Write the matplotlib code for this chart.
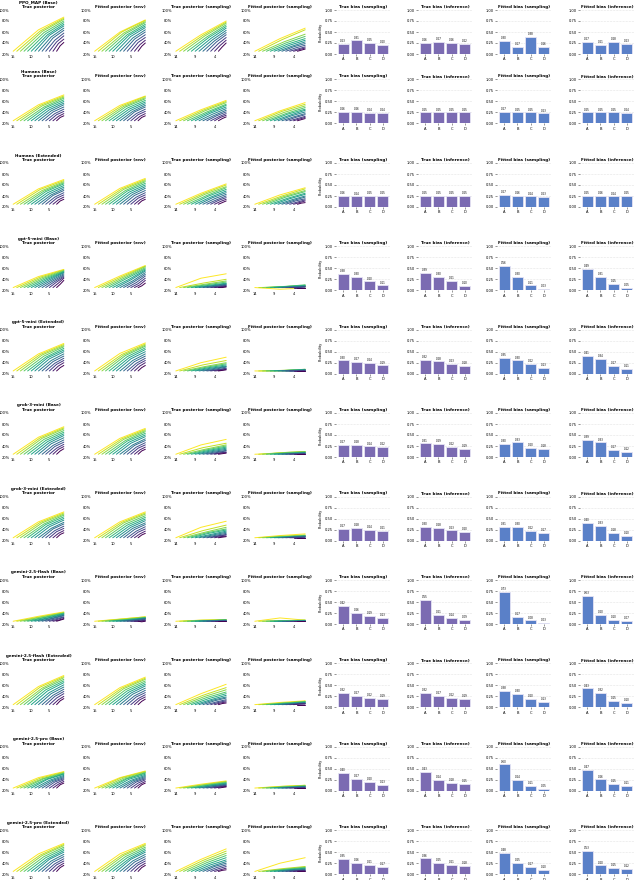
import numpy as np
import matplotlib
matplotlib.use("Agg")
import matplotlib.pyplot as plt

# --- data -------------------------------------------------------------------
MODELS = ["PPO_MAP (Base)", "Humans (Base)", "Humans (Extended)",
          "gpt-5-mini (Base)", "gpt-5-mini (Extended)",
          "grok-3-mini (Base)", "grok-3-mini (Extended)",
          "gemini-2.5-flash (Base)", "gemini-2.5-flash (Extended)",
          "gemini-2.5-pro (Base)", "gemini-2.5-pro (Extended)"]

OPTIONS = ["A", "B", "C", "D"]

# start step of every trajectory (yellow = longest, purple = shortest)
STARTS_ENV = [15, 14, 13, 12, 11, 10, 9, 8, 7, 6, 5, 4, 3]
STARTS_SAMP = [14, 13, 12, 11, 10, 9, 8, 7, 6, 5, 4, 3]
END_STEP = 1
START_PROB = 0.25

# posterior of the true option at the last step / half way, one list per model
TRUE_POST_END = [
    [.87, .85, .83, .80, .77, .74, .71, .67, .63, .58, .53, .47, .41],
    [.72, .70, .68, .66, .63, .60, .57, .54, .50, .46, .42, .38, .34],
    [.70, .68, .66, .64, .62, .59, .56, .53, .50, .46, .42, .38, .34],
    [.58, .57, .56, .55, .54, .53, .52, .50, .48, .46, .44, .42, .38],
    [.75, .73, .71, .69, .66, .63, .60, .56, .52, .48, .44, .40, .35],
    [.75, .73, .71, .68, .65, .62, .59, .55, .51, .47, .43, .39, .35],
    [.72, .70, .68, .66, .63, .60, .57, .53, .50, .46, .42, .38, .34],
    [.42, .41, .40, .40, .39, .38, .37, .36, .35, .33, .32, .30, .29],
    [.78, .76, .74, .71, .68, .65, .61, .57, .53, .49, .45, .40, .36],
    [.55, .54, .53, .52, .51, .50, .48, .46, .44, .42, .40, .37, .34],
    [.76, .74, .72, .69, .66, .63, .60, .56, .52, .48, .44, .40, .36],
]
TRUE_POST_MID = [
    [.64, .62, .61, .59, .57, .55, .54, .51, .49, .45, .42, .39, .35],
    [.54, .53, .52, .50, .49, .47, .45, .43, .41, .38, .36, .33, .31],
    [.53, .52, .50, .49, .48, .46, .44, .42, .41, .38, .36, .33, .31],
    [.45, .44, .43, .42, .41, .40, .39, .38, .37, .36, .35, .33, .31],
    [.56, .55, .54, .52, .50, .49, .47, .44, .42, .39, .37, .34, .31],
    [.56, .55, .54, .52, .50, .48, .46, .44, .41, .39, .36, .34, .31],
    [.54, .53, .52, .50, .49, .47, .45, .42, .41, .38, .36, .33, .31],
    [.34, .33, .33, .32, .32, .31, .31, .30, .30, .29, .28, .27, .27],
    [.58, .57, .55, .54, .52, .50, .47, .45, .42, .40, .37, .34, .32],
    [.44, .43, .42, .42, .41, .41, .39, .38, .37, .36, .34, .32, .31],
    [.57, .55, .54, .52, .50, .48, .47, .44, .42, .39, .37, .34, .32],
]
ENV_POST_END = [
    [.82, .81, .79, .77, .74, .71, .68, .64, .60, .55, .50, .45, .40],
    [.70, .69, .67, .65, .62, .59, .56, .53, .50, .46, .42, .38, .34],
    [.72, .70, .68, .66, .63, .60, .57, .54, .50, .46, .42, .38, .34],
    [.65, .64, .63, .61, .59, .57, .55, .52, .49, .46, .42, .38, .33],
    [.76, .74, .72, .70, .67, .64, .60, .56, .52, .48, .44, .40, .35],
    [.72, .70, .68, .66, .63, .60, .57, .53, .50, .46, .42, .38, .34],
    [.72, .70, .68, .65, .62, .59, .56, .52, .49, .45, .41, .37, .33],
    [.33, .33, .32, .32, .31, .31, .30, .30, .29, .28, .27, .26, .25],
    [.75, .73, .71, .68, .65, .62, .59, .55, .51, .47, .43, .39, .35],
    [.56, .55, .54, .53, .52, .50, .48, .46, .44, .42, .40, .37, .34],
    [.76, .74, .72, .69, .66, .63, .60, .56, .52, .48, .44, .40, .36],
]
ENV_POST_MID = [
    [.60, .60, .58, .57, .55, .54, .52, .49, .47, .44, .41, .37, .34],
    [.53, .52, .51, .50, .48, .46, .44, .42, .41, .38, .36, .33, .31],
    [.54, .53, .52, .50, .49, .47, .45, .43, .41, .38, .36, .33, .31],
    [.46, .45, .44, .43, .42, .40, .39, .37, .36, .34, .32, .30, .28],
    [.57, .55, .54, .53, .51, .49, .47, .44, .42, .39, .37, .34, .31],
    [.54, .53, .52, .50, .49, .47, .45, .42, .41, .38, .36, .33, .31],
    [.54, .53, .52, .50, .48, .46, .44, .42, .40, .37, .35, .32, .30],
    [.29, .29, .28, .28, .28, .27, .27, .27, .26, .26, .25, .25, .24],
    [.56, .55, .54, .52, .50, .48, .46, .44, .41, .39, .36, .34, .31],
    [.44, .44, .43, .42, .42, .41, .39, .38, .37, .36, .34, .32, .31],
    [.57, .55, .54, .52, .50, .48, .47, .44, .42, .39, .37, .34, .32],
]
TRUE_SAMP_END = [
    [.80, .78, .76, .73, .70, .67, .63, .59, .55, .50, .45, .40],
    [.62, .60, .58, .55, .53, .50, .47, .44, .41, .38, .35, .32],
    [.62, .60, .57, .55, .52, .49, .46, .43, .40, .37, .34, .31],
    [.50, .40, .37, .35, .33, .32, .31, .30, .29, .28, .27, .26],
    [.50, .44, .40, .38, .36, .34, .33, .32, .30, .29, .28, .27],
    [.52, .45, .42, .40, .38, .36, .34, .32, .31, .29, .28, .27],
    [.55, .48, .44, .41, .39, .37, .35, .33, .31, .30, .28, .27],
    [.28, .28, .28, .27, .27, .27, .26, .26, .26, .25, .25, .25],
    [.62, .56, .52, .48, .45, .42, .39, .37, .34, .32, .30, .28],
    [.38, .37, .36, .35, .34, .33, .32, .31, .30, .29, .28, .27],
    [.66, .62, .58, .54, .50, .46, .43, .40, .37, .34, .31, .28],
]
TRUE_SAMP_MID = [
    [.55, .54, .53, .51, .50, .48, .46, .44, .42, .39, .36, .33],
    [.45, .44, .43, .41, .40, .39, .37, .35, .34, .32, .31, .29],
    [.45, .44, .43, .41, .40, .38, .37, .35, .33, .32, .30, .28],
    [.42, .33, .31, .30, .29, .28, .28, .27, .27, .26, .26, .25],
    [.40, .36, .33, .32, .31, .30, .29, .28, .27, .27, .26, .26],
    [.42, .37, .34, .33, .32, .31, .30, .29, .28, .27, .27, .26],
    [.44, .38, .35, .34, .33, .31, .30, .29, .28, .28, .27, .26],
    [.27, .27, .26, .26, .26, .26, .26, .25, .25, .25, .25, .25],
    [.45, .42, .40, .38, .36, .34, .33, .32, .30, .29, .28, .27],
    [.32, .31, .31, .30, .30, .29, .29, .28, .28, .27, .27, .26],
    [.47, .45, .43, .41, .39, .37, .35, .34, .32, .30, .28, .27],
]
FIT_SAMP_END = [
    [.67, .64, .56, .52, .48, .45, .42, .39, .36, .33, .31, .29],
    [.58, .55, .52, .49, .46, .44, .41, .38, .36, .33, .31, .29],
    [.55, .53, .50, .48, .45, .43, .40, .38, .35, .33, .31, .28],
    [.24, .28, .29, .30, .29, .28, .27, .27, .26, .26, .25, .25],
    [.26, .27, .28, .28, .27, .27, .27, .26, .26, .26, .25, .25],
    [.29, .30, .30, .29, .28, .28, .27, .27, .26, .26, .25, .25],
    [.32, .30, .29, .29, .28, .28, .27, .27, .26, .26, .25, .25],
    [.27, .27, .27, .26, .26, .26, .26, .25, .25, .25, .25, .25],
    [.32, .31, .31, .30, .30, .29, .28, .28, .27, .27, .26, .25],
    [.30, .30, .29, .29, .28, .28, .27, .27, .26, .26, .25, .25],
    [.50, .34, .33, .32, .31, .30, .29, .28, .27, .27, .26, .25],
]
FIT_SAMP_MID = [
    [.48, .46, .42, .40, .38, .36, .34, .33, .31, .29, .28, .27],
    [.43, .42, .40, .38, .37, .35, .34, .32, .31, .29, .28, .27],
    [.42, .40, .39, .38, .36, .35, .33, .32, .31, .29, .28, .27],
    [.22, .26, .27, .27, .27, .26, .26, .26, .25, .25, .25, .25],
    [.25, .26, .26, .26, .26, .26, .25, .25, .25, .25, .25, .25],
    [.27, .28, .28, .27, .27, .26, .26, .26, .26, .25, .25, .25],
    [.29, .28, .27, .27, .27, .26, .26, .26, .26, .25, .25, .25],
    [.31, .26, .26, .26, .25, .25, .25, .25, .25, .25, .25, .25],
    [.29, .28, .28, .28, .27, .27, .27, .26, .26, .26, .26, .25],
    [.28, .28, .27, .27, .27, .26, .26, .26, .26, .25, .25, .25],
    [.40, .30, .29, .29, .28, .28, .27, .27, .26, .26, .26, .25],
]

# answer-position bias, A..D
TRUE_BIAS_SAMP = [
    [.23, .31, .25, .20], [.26, .26, .24, .24], [.26, .24, .25, .25],
    [.38, .30, .20, .11], [.30, .27, .24, .19], [.27, .28, .24, .22],
    [.27, .28, .24, .21], [.42, .26, .19, .13], [.32, .27, .22, .19],
    [.40, .27, .20, .13], [.35, .26, .21, .17],
]
TRUE_BIAS_INF = [
    [.26, .27, .26, .22], [.25, .25, .25, .25], [.25, .25, .25, .25],
    [.39, .30, .21, .10], [.32, .28, .23, .18], [.31, .29, .22, .19],
    [.30, .28, .23, .20], [.55, .21, .14, .09], [.32, .27, .22, .19],
    [.43, .24, .18, .15], [.36, .25, .21, .18],
]
FIT_BIAS_SAMP = [
    [.30, .17, .38, .16], [.27, .25, .25, .23], [.27, .26, .24, .23],
    [.56, .30, .11, .03], [.35, .30, .22, .13], [.30, .33, .20, .18],
    [.31, .30, .22, .17], [.73, .17, .08, .03], [.38, .30, .20, .13],
    [.60, .24, .11, .05], [.48, .25, .17, .10],
]
FIT_BIAS_INF = [
    [.27, .21, .28, .23], [.25, .25, .25, .24], [.25, .26, .24, .25],
    [.49, .31, .15, .05], [.41, .34, .17, .11], [.39, .33, .17, .12],
    [.40, .33, .18, .10], [.63, .20, .10, .07], [.43, .32, .15, .10],
    [.47, .26, .15, .11], [.53, .20, .15, .12],
]

PURPLE = "#7b6bb2"
BLUE = "#5a80c8"

# --- layout (pixels of the 634x880 image) ----------------------------------
W, H = 634, 880
row_tops = [10, 79.5, 163, 246.3, 329.7, 413, 496.5, 580, 663.4, 746.8, 830.2]
ax_h = 44
line_lefts = [11, 92.5, 173.5, 252.5]
line_w = 55
bar_lefts = [336, 418, 497, 580]
bar_w = 54

TITLE_FS = 3.0
TICK_FS = 2.6

fig = plt.figure(figsize=(W / 100, H / 100), dpi=100)
cmap = plt.get_cmap("viridis")


def px_axes(left, top, width, height):
    return fig.add_axes([left / W, 1 - (top + height) / H, width / W, height / H])


def line_panel(ax, starts, ends, mids, ticks, title):
    n = len(starts)
    for k, (s, e, m) in enumerate(zip(starts, ends, mids)):
        col = cmap(1 - k / (n - 1))
        xs = [s, (s + END_STEP) / 2, END_STEP]
        ys = [START_PROB, m, e]
        ax.plot(xs, ys, color=col, lw=0.7, solid_capstyle="round")
    ax.set_xlim(starts[0] + 0.6, END_STEP - 0.6)
    ax.set_ylim(0.2, 1.0)
    ax.set_xticks(ticks)
    ax.set_yticks([0.2, 0.4, 0.6, 0.8, 1.0])
    ax.set_yticklabels(["20%", "40%", "60%", "80%", "100%"])
    ax.tick_params(labelsize=TICK_FS, length=0, pad=1)
    for sp in ax.spines.values():
        sp.set_visible(False)
    ax.set_title(title, fontsize=TITLE_FS, fontweight="bold", pad=1.5)


def bar_panel(ax, vals, color, title, ylabel=False):
    x = np.arange(len(OPTIONS))
    bars = ax.bar(x, vals, width=0.8, color=color, edgecolor="#e6e4f4",
                  linewidth=0.6, zorder=2)
    ax.bar_label(bars, labels=[f"{v:.2f}" for v in vals], fontsize=1.9,
                 padding=0.6)
    ax.set_ylim(0, 1.0)
    ax.set_xlim(-0.55, 3.55)
    ax.set_xticks(x)
    ax.set_xticklabels(OPTIONS)
    ax.set_yticks([0, 0.25, 0.5, 0.75, 1.0])
    ax.set_yticklabels(["0.00", "0.25", "0.50", "0.75", "1.00"])
    ax.yaxis.grid(True, linestyle=":", linewidth=0.4, color="#cccccc", zorder=0)
    ax.set_axisbelow(True)
    ax.tick_params(labelsize=TICK_FS, length=1.5, width=0.4, pad=1,
                   color="#444444")
    for sp in ax.spines.values():
        sp.set_visible(False)
    ax.set_title(title, fontsize=TITLE_FS, fontweight="bold", pad=1.5)
    if ylabel:
        ax.set_ylabel("Probability", fontsize=TICK_FS, labelpad=1)


for r, model in enumerate(MODELS):
    top = row_tops[r]
    ax = px_axes(line_lefts[0], top, line_w, ax_h)
    line_panel(ax, STARTS_ENV, TRUE_POST_END[r], TRUE_POST_MID[r], [15, 10, 5],
               f"{model}\nTrue posterior")
    ax = px_axes(line_lefts[1], top, line_w, ax_h)
    line_panel(ax, STARTS_ENV, ENV_POST_END[r], ENV_POST_MID[r], [15, 10, 5],
               "Fitted posterior (env)")
    ax = px_axes(line_lefts[2], top, line_w, ax_h)
    line_panel(ax, STARTS_SAMP, TRUE_SAMP_END[r], TRUE_SAMP_MID[r], [14, 9, 4],
               "True posterior (sampling)")
    ax = px_axes(line_lefts[3], top, line_w, ax_h)
    line_panel(ax, STARTS_SAMP, FIT_SAMP_END[r], FIT_SAMP_MID[r], [14, 9, 4],
               "Fitted posterior (sampling)")

    bar_panel(px_axes(bar_lefts[0], top, bar_w, ax_h), TRUE_BIAS_SAMP[r],
              PURPLE, "True bias (sampling)", ylabel=True)
    bar_panel(px_axes(bar_lefts[1], top, bar_w, ax_h), TRUE_BIAS_INF[r],
              PURPLE, "True bias (inference)")
    bar_panel(px_axes(bar_lefts[2], top, bar_w, ax_h), FIT_BIAS_SAMP[r],
              BLUE, "Fitted bias (sampling)")
    bar_panel(px_axes(bar_lefts[3], top, bar_w, ax_h), FIT_BIAS_INF[r],
              BLUE, "Fitted bias (inference)")

fig.savefig("out.png", dpi=100)
